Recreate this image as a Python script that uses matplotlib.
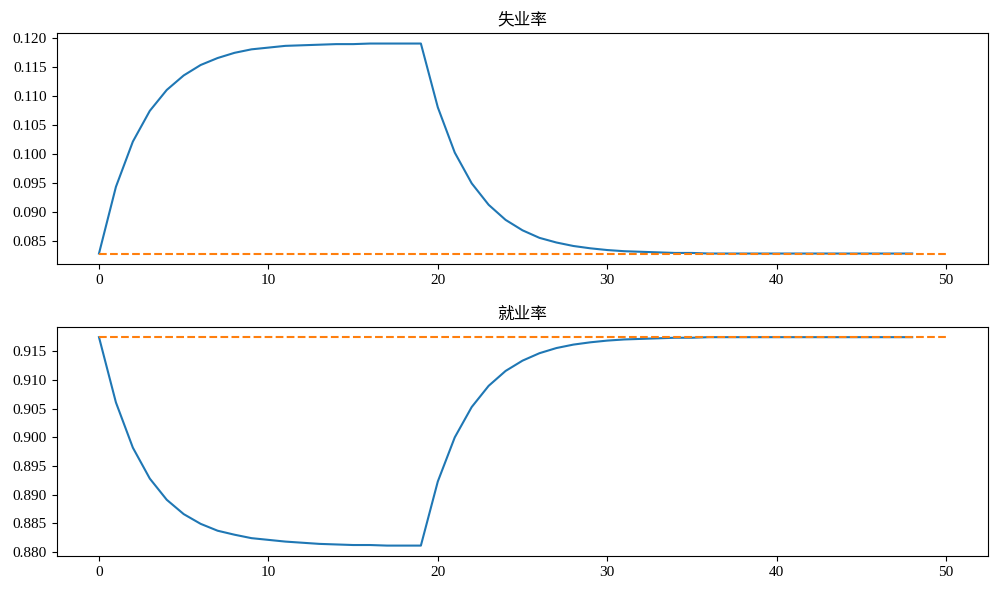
import matplotlib
matplotlib.use("Agg")
import matplotlib.pyplot as plt
from matplotlib.ticker import MultipleLocator, FormatStrFormatter

# Data
periods = list(range(49))
unemployment = [0.0828, 0.0943, 0.1021, 0.1074, 0.1110, 0.1135, 0.1153, 0.1165, 0.1174, 0.1180,
                0.1183, 0.1186, 0.1187, 0.1188, 0.1189, 0.1189, 0.1190, 0.1190, 0.1190, 0.1190,
                0.1080, 0.1002, 0.0949, 0.0912, 0.0886, 0.0868, 0.0855, 0.0847, 0.0841, 0.0837,
                0.0834, 0.0832, 0.0831, 0.0830, 0.0829, 0.0829, 0.0828, 0.0828, 0.0828, 0.0828,
                0.0828, 0.0828, 0.0828, 0.0828, 0.0828, 0.0828, 0.0828, 0.0828, 0.0828]
employment = [0.9175, 0.9061, 0.8982, 0.8928, 0.8891, 0.8866, 0.8849, 0.8837, 0.8830, 0.8824,
              0.8821, 0.8818, 0.8816, 0.8814, 0.8813, 0.8812, 0.8812, 0.8811, 0.8811, 0.8811,
              0.8923, 0.9000, 0.9053, 0.9090, 0.9116, 0.9134, 0.9147, 0.9156, 0.9162, 0.9166,
              0.9169, 0.9171, 0.9172, 0.9173, 0.9174, 0.9174, 0.9175, 0.9175, 0.9175, 0.9175,
              0.9175, 0.9175, 0.9175, 0.9175, 0.9175, 0.9175, 0.9175, 0.9175, 0.9175]
steady_start, steady_end = 0, 50
u_bar = 0.0828
e_bar = 0.9175
titles = ["失业率", "就业率"]

plt.rcParams['font.family'] = ['Liberation Serif', 'Noto Sans CJK SC', 'DejaVu Sans']
plt.rcParams['font.size'] = 11

fig = plt.figure(figsize=(9.97, 5.9), dpi=100)
ax_top = fig.add_axes([0.0568, 0.5525, 0.9346, 0.3915])
ax_bot = fig.add_axes([0.0568, 0.0576, 0.9346, 0.3886])
axes = [ax_top, ax_bot]

for ax, series, bar, title in zip(axes, [unemployment, employment], [u_bar, e_bar], titles):
    ax.plot(periods, series, color='C0', lw=1.5)
    ax.hlines(bar, steady_start, steady_end, colors='C1', linestyles='--', lw=1.5)
    ax.set_title(title, fontsize=12, family=['Noto Sans CJK SC', 'DejaVu Sans'])
    ax.yaxis.set_major_locator(MultipleLocator(0.005))
    ax.yaxis.set_major_formatter(FormatStrFormatter('%.3f'))

fig.savefig("out.png", dpi=100)
